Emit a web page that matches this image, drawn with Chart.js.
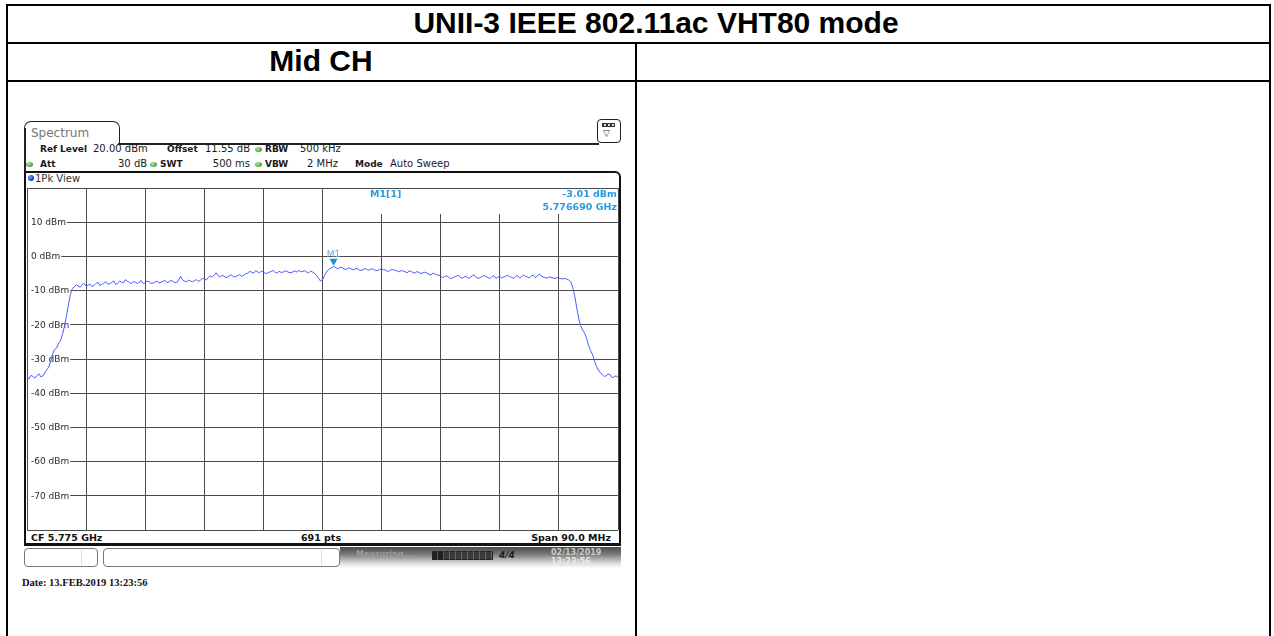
<!DOCTYPE html>
<html><head><meta charset="utf-8">
<script src="https://cdn.jsdelivr.net/npm/chart.js@4/dist/chart.umd.min.js"></script>
<style>
html,body{margin:0;padding:0;background:#fff;width:1274px;height:636px;overflow:hidden;position:relative;font-family:"DejaVu Sans",sans-serif;}
.a{position:absolute;white-space:nowrap;}
.ln{position:absolute;background:#000;}
.hb{font-size:9px;line-height:10px;font-weight:bold;color:#1a1a1a;}
.hr{font-size:10px;line-height:10px;color:#1a1a1a;}
.gd{position:absolute;width:7px;height:5px;border-radius:50%;background:radial-gradient(circle at 40% 35%,#b6e6a0,#3f9d3a 70%);}
.cf{font-size:9.5px;line-height:11px;font-weight:bold;color:#111;}
</style></head><body>
<!-- table -->
<div class="ln" style="left:6px;top:4px;width:1265px;height:2px"></div>
<div class="ln" style="left:6px;top:4px;width:2px;height:632px"></div>
<div class="ln" style="left:1269px;top:4px;width:2px;height:632px"></div>
<div class="ln" style="left:6px;top:42px;width:1265px;height:2px"></div>
<div class="ln" style="left:6px;top:80px;width:1265px;height:2px"></div>
<div class="ln" style="left:635px;top:42px;width:2px;height:594px"></div>
<div class="a" style="left:42px;top:6px;width:1228px;height:38px;line-height:38px;text-align:center;font:bold 30px 'Liberation Sans',Arial,sans-serif;color:#000">UNII-3 IEEE 802.11ac VHT80 mode</div>
<div class="a" style="left:6px;top:44px;width:630px;height:38px;line-height:38px;text-align:center;font:bold 30px 'Liberation Sans',Arial,sans-serif;color:#000">Mid CH</div>

<!-- spectrum window -->
<div class="a" style="left:24px;top:121px;width:96px;height:24px;box-sizing:border-box;border:1.5px solid #222;border-bottom:none;border-radius:7px 7px 0 0"></div>
<div class="a" style="left:31px;top:126px;font-size:12px;line-height:14px;color:#777">Spectrum</div>
<div class="ln" style="left:118px;top:143px;width:481px;height:1.5px;background:#222"></div>
<div class="a" style="left:597px;top:119px;width:24px;height:24px;box-sizing:border-box;border:1.5px solid #222;border-radius:4px"></div>
<div class="a" style="left:602px;top:123px;width:13px;height:4px;background:#333"></div>
<div class="a" style="left:604px;top:124px;width:2px;height:2px;background:#ddd"></div>
<div class="a" style="left:608px;top:124px;width:2px;height:2px;background:#ddd"></div>
<div class="a" style="left:612px;top:124px;width:2px;height:2px;background:#ddd"></div>
<div class="a" style="left:603px;top:128px;font-size:9px;line-height:10px;color:#333">▽</div>

<div class="a hb" style="left:40px;top:144px">Ref Level</div>
<div class="a hr" style="left:93px;top:144px">20.00 dBm</div>
<div class="a hb" style="left:167px;top:144px">Offset</div>
<div class="a hr" style="left:205px;top:144px">11.55 dB</div>
<div class="gd" style="left:255px;top:147px"></div>
<div class="a hb" style="left:265px;top:144px">RBW</div>
<div class="a hr" style="left:300px;top:144px">500 kHz</div>

<div class="gd" style="left:26px;top:162px"></div>
<div class="a hb" style="left:40px;top:159px">Att</div>
<div class="a hr" style="left:118px;top:159px;width:28px;text-align:right">30 dB</div>
<div class="gd" style="left:150px;top:162px"></div>
<div class="a hb" style="left:160px;top:159px">SWT</div>
<div class="a hr" style="left:200px;top:159px;width:50px;text-align:right">500 ms</div>
<div class="gd" style="left:255px;top:162px"></div>
<div class="a hb" style="left:265px;top:159px">VBW</div>
<div class="a hr" style="left:300px;top:159px;width:38px;text-align:right">2 MHz</div>
<div class="a hb" style="left:355px;top:159px">Mode</div>
<div class="a hr" style="left:390px;top:159px">Auto Sweep</div>

<div class="ln" style="left:24px;top:128px;width:2px;height:45px;background:#222"></div>
<!-- 1Pk View panel -->
<div class="a" style="left:24px;top:171px;width:597px;height:375px;box-sizing:border-box;border:2px solid #111;border-bottom-width:3px;border-radius:0 6px 0 0"></div>
<div class="a" style="left:28px;top:175px;width:6px;height:6px;border-radius:50%;background:radial-gradient(circle at 35% 35%,#7f9cff,#1230c8 70%)"></div>
<div class="a" style="left:35px;top:173px;font-size:10px;line-height:11px;color:#333">1Pk View</div>

<!-- CF bar -->
<div class="a cf" style="left:31px;top:532px">CF 5.775 GHz</div>
<div class="a cf" style="left:271px;top:532px;width:100px;text-align:center">691 pts</div>
<div class="a cf" style="left:500px;top:532px;width:111px;text-align:right">Span 90.0 MHz</div>

<!-- status bar -->
<div class="a" style="left:24px;top:548px;width:74px;height:19px;box-sizing:border-box;border:1px solid #777;border-radius:4px"></div>
<div class="a" style="left:81px;top:550px;width:1px;height:15px;background:#ddd"></div>
<div class="a" style="left:103px;top:548px;width:237px;height:19px;box-sizing:border-box;border:1px solid #777;border-radius:4px"></div>
<div class="a" style="left:321px;top:550px;width:1px;height:15px;background:#ddd"></div>
<div class="a" style="left:340px;top:547px;width:281px;height:21px;background:linear-gradient(to bottom,#4a4a4a 0%,#7a7a7a 35%,#d8d8d8 75%,#fff 100%)"></div>
<div class="a" style="left:356px;top:550px;font-size:8px;line-height:9px;color:#9a9a9a;font-weight:bold">Measuring...</div>
<div class="a" style="left:432px;top:551px;width:61px;height:9px;background:repeating-linear-gradient(to right,#222 0,#222 5px,#555 5px,#555 6px)"></div>
<div class="a" style="left:444px;top:552px;width:48px;height:7px;background:repeating-linear-gradient(to right,#3a3a3a 0,#3a3a3a 5px,#666 5px,#666 6px)"></div>
<div class="a" style="left:499px;top:550px;font-size:9px;line-height:10px;font-weight:bold;font-style:italic;color:#222">4/4</div>
<div class="a" style="left:551px;top:548px;font-size:8px;line-height:9px;color:#c8c8c8;font-weight:bold">02/13/2019</div>
<div class="a" style="left:551px;top:557px;font-size:8px;line-height:9px;color:#e8e8e8;font-weight:bold">13:23:56</div>

<div class="a" style="left:22px;top:577px;font:bold 10.5px 'Liberation Serif','Times New Roman',serif;line-height:12px;color:#111">Date: 13.FEB.2019  13:23:56</div>

<canvas id="c" width="1274" height="636" style="position:absolute;left:0;top:0"></canvas>
<script>
// ---- data ----
const startGHz = 5.730;
const stopGHz = 5.820;
const xDivisions = 10;
const refLevelDbm = 20;
const bottomLevelDbm = -80;
const levelStepDb = 10;
const yTickLabels = ['10 dBm','0 dBm','-10 dBm','-20 dBm','-30 dBm','-40 dBm','-50 dBm','-60 dBm','-70 dBm'];
const yTickValues = [10, 0, -10, -20, -30, -40, -50, -60, -70];
const traceDbm = [
 -35.3,-35.8,-34.8,-35.1,-35.6,-34.9,-34.3,-35.2,-35.0,-34.1,-33.2,-32.4,-30.6,-28.5,-27.2,-26.8,-25.4,-24.6,-22.8,-20.5,-17.6,-14.2,-11.2,-9.4,-8.9,
 -8.3,-8.6,-9.0,-8.3,-7.9,-8.7,-8.4,-8.1,-8.8,-8.5,-7.9,-7.6,-8.5,-8.2,-7.8,-7.4,
 -8.1,-8.0,-7.6,-7.2,-8.2,-7.9,-7.3,-7.5,-7.7,-6.8,-7.3,-7.6,-8.0,-7.3,-7.6,-7.9,-7.5,-7.1,-8.0,-7.7,
 -7.2,-7.4,-7.9,-7.8,-7.5,-7.2,-7.8,-7.6,-7.3,-7.0,-7.6,-7.5,-7.0,-7.3,-7.6,-7.7,-6.9,-5.8,-6.9,-7.2,-7.5,-6.9,-7.2,-7.4,-7.1,-6.8,
 -7.3,-7.0,-6.4,-6.6,-6.9,-6.2,-5.7,-6.0,-5.5,-4.8,-5.6,-6.1,-5.5,-5.8,-6.2,-6.0,-5.4,-5.6,-6.0,-5.9,-5.6,-5.3,-5.8,-5.5,
 -5.1,-4.9,-4.4,-4.6,-4.9,-4.2,-4.5,-4.8,-4.3,-4.5,-5.0,-4.9,-4.6,-4.4,-4.1,-4.7,-4.9,-4.3,-4.7,-4.6,-4.2,-4.4,-4.7,-4.8,-4.5,-4.2,
 -4.6,-4.1,-4.5,-4.4,-4.2,-4.6,-4.8,-4.3,-4.6,-5.0,-5.6,-6.4,-7.2,-6.8,-5.6,-4.6,-3.9,-3.5,
 -3.2,-3.0,-3.4,-3.6,-3.1,-3.3,-3.7,-3.8,-3.4,-3.5,-3.8,-3.9,-3.5,-3.7,-4.1,-4.0,-3.7,-3.6,-4.0,-3.9,-3.6,-3.8,-4.2,-4.1,-3.8,-3.7,-3.9,-4.0,-4.4,-4.2,-3.8,-3.9,-4.1,-4.3,
 -4.5,-4.1,-4.3,-4.5,-4.8,-4.2,-4.4,-4.7,-4.9,-4.4,-4.7,-5.0,-4.8,-4.6,-4.9,-5.2,-5.5,-4.9,-5.1,-5.4,-5.5,-5.8,
 -6.2,-5.9,-5.7,-6.1,-6.5,-6.3,-6.0,-5.8,-5.5,-6.2,-6.4,-6.0,-5.8,-6.4,-6.1,-5.7,-5.4,-6.1,-6.4,-6.3,-5.9,-5.6,-5.9,-6.2,-6.5,-5.9,-5.6,-6.4,-6.1,-5.8,
 -6.3,-6.0,-5.8,-5.5,-5.9,-6.1,-6.4,-5.9,-5.6,-6.3,-6.0,-5.4,-5.8,-6.0,-6.3,-5.7,-5.5,-6.2,-5.8,-5.1,-5.7,-6.0,-6.2,-6.4,-6.0,-6.1,-6.3,-6.5,-6.2,-6.3,-6.5,-6.6,-6.4,-6.7,
 -6.9,-7.4,-9.0,-11.5,-14.8,-18.0,-20.2,-21.5,-22.4,-23.8,-25.9,-27.5,-28.6,-30.5,-32.1,-33.2,-34.0,-34.5,-35.1,-34.9,-34.4,-34.6,-35.5,-35.2,-34.9,-35.4
];
const markerName = 'M1';
const markerFreqGHz = 5.776690;
const markerLevelDbm = -3.01;
const markerReadout = ['M1[1]', '-3.01 dBm', '5.776690 GHz'];

// ---- build ----
const stepGHz = (stopGHz - startGHz) / (traceDbm.length - 1);
const tracePoints = traceDbm.map((v, i) => ({x: startGHz + i * stepGHz, y: v}));
const xGridGHz = Array.from({length: xDivisions + 1}, (_, i) => startGHz + i * (stopGHz - startGHz) / xDivisions);

const overlay = {
  id: 'overlay',
  beforeDatasetsDraw(chart) {
    const {ctx, chartArea: ca, scales: {x, y}} = chart;
    ctx.save();
    const cx = x.getPixelForValue(xGridGHz[xDivisions / 2]);
    ctx.fillStyle = '#fff';
    ctx.fillRect(cx + 1, ca.top + 1, ca.right - cx - 2, 25);
    ctx.fillStyle = '#2b9be0';
    ctx.font = 'bold 9.5px "DejaVu Sans"';
    ctx.textBaseline = 'middle';
    ctx.textAlign = 'left';
    ctx.fillText(markerReadout[0], 370, ca.top + 7);
    ctx.textAlign = 'right';
    ctx.fillText(markerReadout[1], ca.right - 1, ca.top + 7);
    ctx.fillText(markerReadout[2], ca.right - 1, ca.top + 20);
    ctx.font = '9px "DejaVu Sans"';
    ctx.textAlign = 'left';
    yTickValues.forEach((v, i) => {
      const py = y.getPixelForValue(v);
      const w = ctx.measureText(yTickLabels[i]).width;
      ctx.fillStyle = '#fff';
      ctx.fillRect(ca.left + 1, py - 5, w + 4, 10);
      ctx.fillStyle = '#2a2a2a';
      ctx.fillText(yTickLabels[i], ca.left + 4, py + 0.5);
    });
    ctx.restore();
  },
  afterDatasetsDraw(chart) {
    const {ctx, scales: {x, y}} = chart;
    const px = x.getPixelForValue(markerFreqGHz);
    const py = y.getPixelForValue(markerLevelDbm);
    ctx.save();
    ctx.fillStyle = '#1e8fd8';
    ctx.beginPath();
    ctx.moveTo(px - 4, py - 8);
    ctx.lineTo(px + 4, py - 8);
    ctx.lineTo(px, py - 1);
    ctx.closePath();
    ctx.fill();
    ctx.fillStyle = '#5fb3ea';
    ctx.font = '9px "DejaVu Sans"';
    ctx.textAlign = 'center';
    ctx.textBaseline = 'alphabetic';
    ctx.fillText(markerName, px, py - 10);
    ctx.restore();
  }
};

new Chart(document.getElementById('c'), {
  type: 'line',
  data: {
    datasets: [{
      data: tracePoints,
      borderColor: '#4b5cff',
      borderWidth: 1,
      pointRadius: 0,
      tension: 0,
      fill: false
    }]
  },
  options: {
    responsive: false,
    animation: false,
    events: [],
    layout: {padding: {left: 27, top: 188, right: 1274 - 618, bottom: 636 - 530}},
    plugins: {legend: {display: false}, tooltip: {enabled: false}},
    scales: {
      x: {
        type: 'linear', min: startGHz, max: stopGHz,
        afterBuildTicks: s => { s.ticks = xGridGHz.map(v => ({value: v})); },
        ticks: {display: false},
        grid: {color: '#4a4a4a', lineWidth: 1, drawTicks: false},
        border: {display: false}
      },
      y: {
        type: 'linear', min: bottomLevelDbm, max: refLevelDbm,
        ticks: {display: false, stepSize: levelStepDb},
        grid: {color: '#4a4a4a', lineWidth: 1, drawTicks: false},
        border: {display: false}
      }
    }
  },
  plugins: [overlay]
});
</script>
</body></html>
